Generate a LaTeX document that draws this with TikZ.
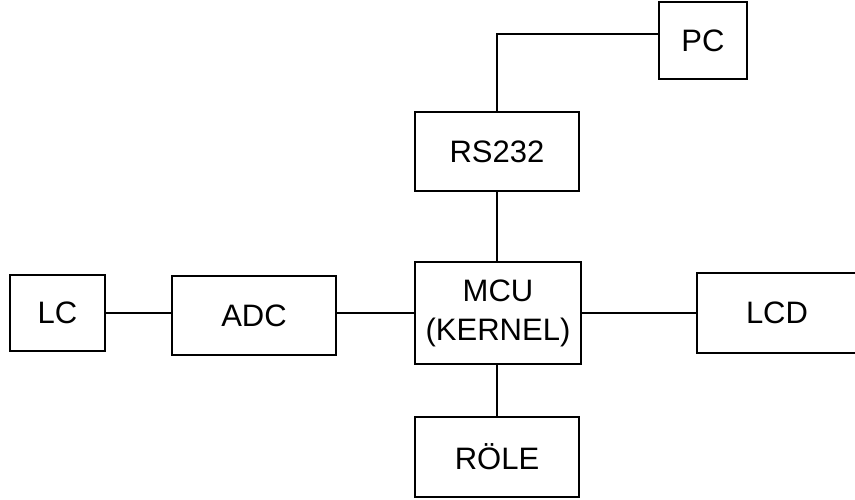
\documentclass[tikz,border=0pt]{standalone}
\usepackage{fontspec}
\setmainfont{Liberation Sans}
\usetikzlibrary{positioning, calc}
\tikzset{
  blok/.style={draw, line width=1pt, inner sep=0pt, align=center,
    font=\fontsize{15.5}{19.5}\selectfont},
  hat/.style={line width=1pt}
}

\begin{document}
\begin{tikzpicture}[x=0.5pt, y=-0.5pt]
        \useasboundingbox (0,0) rectangle (855,499);
        % bloklar
        \node[blok, minimum width=44pt, minimum height=38.5pt] (pc) at (703,40.5) {PC};
        \node[blok, minimum width=82pt, minimum height=39.5pt] (rs) at (497,151.5) {RS232};
        \node[blok, minimum width=83pt, minimum height=51pt] (mcu) at (498,313) {MCU\\(KERNEL)};
        \node[blok, minimum width=47.5pt, minimum height=38pt] (lc) at (57.5,313) {LC};
        \node[blok, minimum width=82pt, minimum height=39.5pt] (adc) at (254,315.5) {ADC};
        \node[blok, minimum width=80pt, minimum height=40pt] (lcd) at (777,313) {LCD};
        \node[blok, minimum width=82pt, minimum height=40pt] (role) at (497,457) {RÖLE};
        % baglantilar
        \draw[hat] ([yshift=3.25pt]pc.west) -| (rs.north);
        \draw[hat] (rs.south) -- (rs.south |- mcu.north);
        \draw[hat] (lc.east) -- (lc.east -| adc.west);
        \draw[hat] (mcu.west) -- (mcu.west -| adc.east);
        \draw[hat] (mcu.east) -- (lcd.west);
        \draw[hat] (role.north) -- (role.north |- mcu.south);
      \end{tikzpicture}
\end{document}
